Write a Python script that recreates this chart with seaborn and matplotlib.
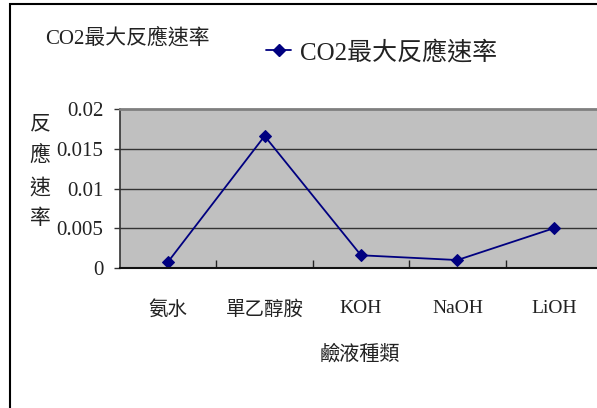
import matplotlib
matplotlib.use("Agg")
import matplotlib.pyplot as plt
from matplotlib.patches import Rectangle
from matplotlib.lines import Line2D
import seaborn as sns
import pandas as pd

# 鹼液種類與 CO2 最大反應速率
solutions = ["氨水", "單乙醇胺", "KOH", "NaOH", "LiOH"]
rates = [0.0008, 0.0166, 0.0016, 0.0010, 0.0050]
y_ticks = [0, 0.005, 0.01, 0.015, 0.02]
y_tick_labels = ["0", "0.005", "0.01", "0.015", "0.02"]
series_name = "CO2最大反應速率"

sns.set_theme(style="white")
plt.rcParams["font.family"] = ["Liberation Serif", "Noto Sans CJK TC"]

df = pd.DataFrame({"solution": solutions, "rate": rates})

W, H = 597, 408
fig = plt.figure(figsize=(W / 100, H / 100), dpi=100)
fig.patch.set_facecolor("white")

ax = fig.add_axes([120 / W, 140 / H, (602 - 120) / W, 159 / H])
ax.set_facecolor("#C0C0C0")

navy = "#000080"
sns.lineplot(data=df, x="solution", y="rate", ax=ax, sort=False,
             color=navy, linewidth=1.3, marker="D", markersize=6,
             markeredgecolor=navy, markerfacecolor=navy, legend=False)

ax.set_xlim(-0.5, len(solutions) - 0.5)
ax.set_ylim(0, 0.02)

# y axis
ax.set_yticks(y_ticks)
ax.set_yticklabels(y_tick_labels, fontsize=15, color="#222222")
ax.tick_params(axis="y", direction="out", length=4, width=1, color="#333333",
               pad=8, left=True)
for v in y_ticks[1:-1]:
    ax.axhline(v, color="#333333", linewidth=1.0, zorder=1)

# x axis: labels at category centers, ticks at boundaries
ax.set_xticks(range(len(solutions)))
ax.set_xticklabels(solutions, fontsize=14, color="#222222")
ax.tick_params(axis="x", which="major", length=0, pad=23)
ax.set_xticks([i + 0.5 for i in range(len(solutions) - 1)], minor=True)
ax.tick_params(axis="x", which="minor", direction="in", length=6, width=1,
               color="#222222", bottom=True)

ax.set_xlabel("")
ax.set_ylabel("")
ax.grid(False)

ax.spines["top"].set_color("#7F7F7F")
ax.spines["top"].set_linewidth(2)
ax.spines["left"].set_color("#333333")
ax.spines["left"].set_linewidth(1.2)
ax.spines["bottom"].set_color("#111111")
ax.spines["bottom"].set_linewidth(1.5)
ax.spines["right"].set_visible(False)

# x axis title
fig.text(360 / W, (H - 355) / H, "鹼液種類", ha="center", va="center",
         fontsize=14.5, color="#222222")

# y axis title, one character per line
fig.text(40 / W, (H - 172) / H, "反\n應\n速\n率", ha="center", va="center",
         fontsize=15, color="#222222", linespacing=1.8)

# chart title
fig.text(45 / W, (H - 38) / H, series_name, ha="left", va="center",
         fontsize=15, color="#222222")

# legend
handle = Line2D([], [], color=navy, linewidth=1.3, marker="D", markersize=6,
                markerfacecolor=navy, markeredgecolor=navy)
fig.legend([handle], [series_name], loc="center left",
           bbox_to_anchor=(266 / W, (H - 52) / H), frameon=False,
           fontsize=18, handlelength=1.0, handletextpad=0.35,
           borderpad=0, borderaxespad=0, labelcolor="#222222")

# chart border
fig.patches.append(Rectangle((10 / W, -0.1), 1.2, 1.1 - 4 / H,
                             transform=fig.transFigure, fill=False,
                             edgecolor="black", linewidth=1.5))

fig.savefig("out.png", dpi=100)
